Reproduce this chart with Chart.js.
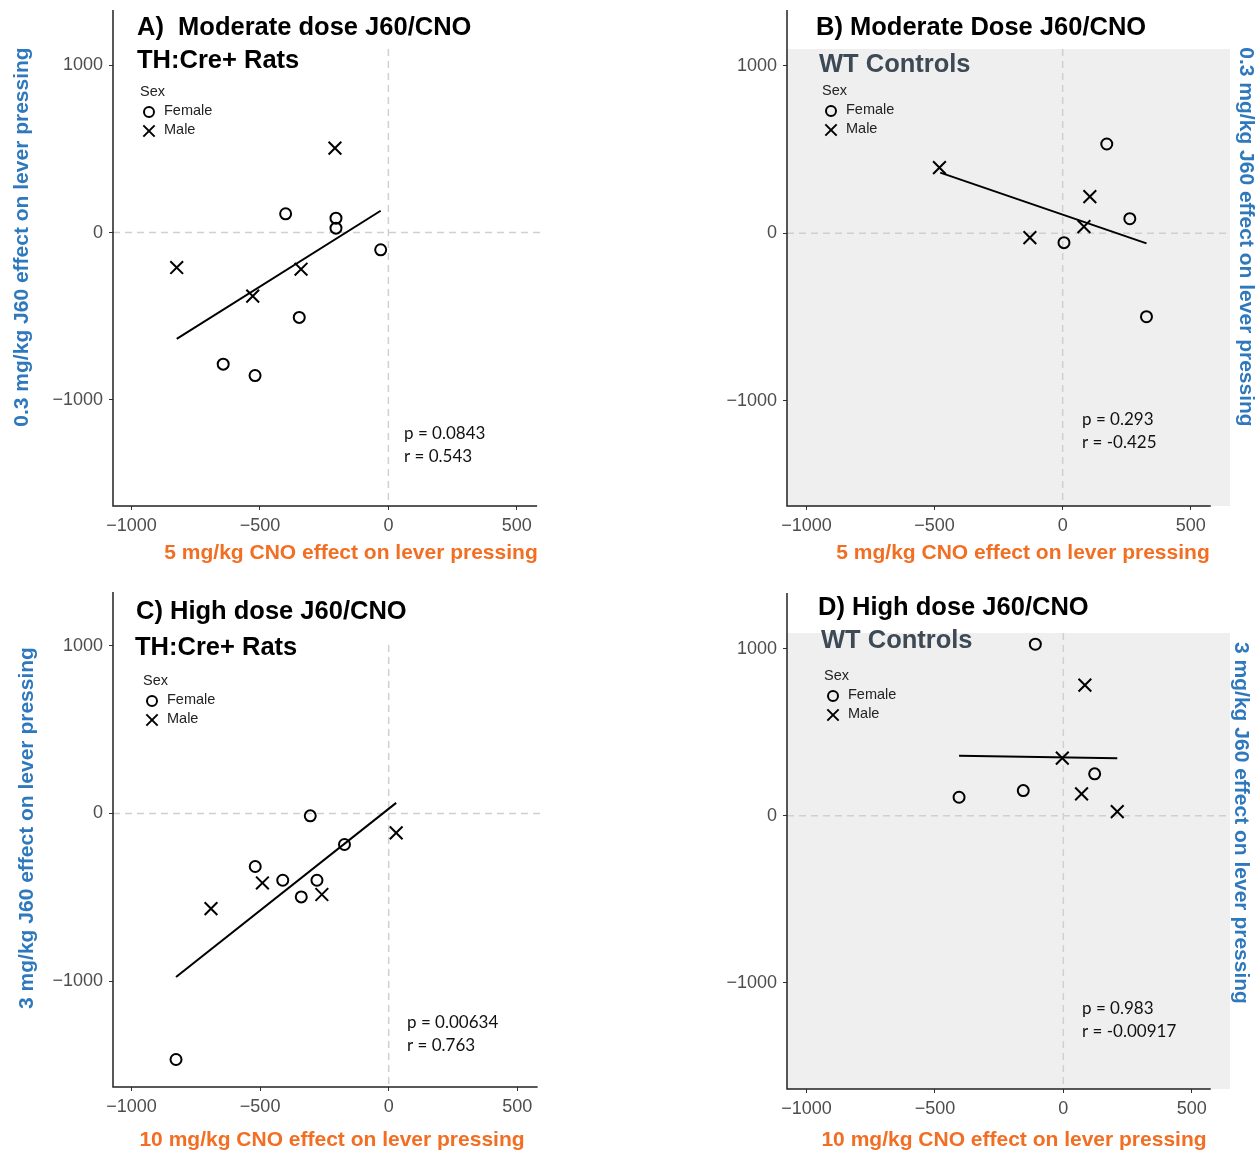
<!DOCTYPE html>
<html>
<head>
<meta charset="utf-8">
<script src="https://cdn.jsdelivr.net/npm/chart.js@4.4.0/dist/chart.umd.min.js"></script>
<style>
  body { margin: 0; background: #fff; }
  #wrap { position: relative; width: 1260px; height: 1151px; }
  canvas { position: absolute; }
</style>
</head>
<body>
<div id="wrap">
  <canvas id="cA" width="630" height="580" style="left:0;top:0"></canvas>
  <canvas id="cB" width="630" height="580" style="left:630px;top:0"></canvas>
  <canvas id="cC" width="630" height="571" style="left:0;top:580px"></canvas>
  <canvas id="cD" width="630" height="571" style="left:630px;top:580px"></canvas>
</div>
<script>
// tick values shared by all panels
const ticksX = [-1000, -500, 0, 500];
const ticksY = [-1000, 0, 1000];

// A) moderate dose, TH:Cre+ rats
const aFemaleX = [-400, -204, -204, -30, -347, -643, -519];
const aFemaleY = [112, 86, 26, -103, -507, -786, -854];
const aMaleX = [-208, -824, -340, -528];
const aMaleY = [504, -209, -219, -380];
const aFitX = [-824, -30];
const aFitY = [-635, 130];

// B) moderate dose, WT controls
const bFemaleX = [172, 262, 5, 327];
const bFemaleY = [533, 87, -56, -498];
const bMaleX = [-481, 106, 83, -128];
const bMaleY = [392, 219, 40, -26];
const bFitX = [-478, 327];
const bFitY = [362, -60];

// C) high dose, TH:Cre+ rats
const cFemaleX = [-305, -172, -519, -412, -279, -340, -827];
const cFemaleY = [-14, -185, -316, -398, -398, -497, -1466];
const cMaleX = [29, -491, -260, -691];
const cMaleY = [-116, -414, -483, -567];
const cFitX = [-827, 29];
const cFitY = [-975, 63];

// D) high dose, WT controls
const dFemaleX = [-109, 122, -156, -406];
const dFemaleY = [1026, 250, 150, 110];
const dMaleX = [84, -4, 71, 210];
const dMaleY = [781, 344, 130, 24];
const dFitX = [-406, 210];
const dFitY = [359, 344];

const panelTitles = ['A)  Moderate dose J60/CNO', 'B) Moderate Dose J60/CNO', 'C) High dose J60/CNO', 'D) High dose J60/CNO'];
const groupNames = ['TH:Cre+ Rats', 'WT Controls', 'TH:Cre+ Rats', 'WT Controls'];
const pValues = ['0.0843', '0.293', '0.00634', '0.983'];
const rValues = ['0.543', '-0.425', '0.763', '-0.00917'];
const yTitles = ['0.3 mg/kg J60 effect on lever pressing', '0.3 mg/kg J60 effect on lever pressing',
                 '3 mg/kg J60 effect on lever pressing', '3 mg/kg J60 effect on lever pressing'];
const xTitles = ['5 mg/kg CNO effect on lever pressing', '5 mg/kg CNO effect on lever pressing',
                 '10 mg/kg CNO effect on lever pressing', '10 mg/kg CNO effect on lever pressing'];

const SANS = '"Liberation Sans", Arial, sans-serif';
const BLUE = '#2e78bd';
const ORANGE = '#f26e22';
const SLATE = '#3d4955';

// layout of each panel, in page pixels
const panels = [
  { id: 'cA', ox: 0, oy: 0, area: [113, 542, 49, 506], x: [-1072, 598], y: [-1633, 1096], axisTop: 10, xEnd: 579, shaded: false,
    title: [137, 28], group: [137, 61], legend: [140, 92], stats: [404, 434], yTitle: [22, 237, -1], xTitle: [351, 553],
    female: [aFemaleX, aFemaleY], male: [aMaleX, aMaleY], fit: [aFitX, aFitY] },
  { id: 'cB', ox: 630, oy: 0, area: [787, 1230, 49, 506], x: [-1076, 653], y: [-1628, 1100], axisTop: 10, xEnd: 578, shaded: true,
    title: [816, 28], group: [819, 65], legend: [822, 91], stats: [1082, 420], yTitle: [1246, 237, 1], xTitle: [1023, 553],
    female: [bFemaleX, bFemaleY], male: [bMaleX, bMaleY], fit: [bFitX, bFitY] },
  { id: 'cC', ox: 0, oy: 580, area: [113, 542, 645, 1087], x: [-1072, 596], y: [-1630, 1004], axisTop: 592, xEnd: 579, shaded: false,
    title: [136, 612], group: [135, 648], legend: [143, 681], stats: [407, 1023], yTitle: [27, 828, -1], xTitle: [332, 1140],
    female: [cFemaleX, cFemaleY], male: [cMaleX, cMaleY], fit: [cFitX, cFitY] },
  { id: 'cD', ox: 630, oy: 580, area: [787, 1230, 633, 1089], x: [-1076, 649], y: [-1636, 1093], axisTop: 593, xEnd: 574, shaded: true,
    title: [818, 608], group: [821, 641], legend: [824, 676], stats: [1082, 1009], yTitle: [1241, 823, 1], xTitle: [1014, 1140],
    female: [dFemaleX, dFemaleY], male: [dMaleX, dMaleY], fit: [dFitX, dFitY] }
];

const fmt = v => (v < 0 ? '\u2212' : '') + Math.abs(v);
const pts = (xs, ys) => xs.map((x, i) => ({ x: x, y: ys[i] }));

function text(ctx, s, x, y, font, color, align, rot) {
  ctx.save();
  ctx.translate(x, y);
  if (rot) ctx.rotate(rot * Math.PI / 2);
  ctx.font = font;
  ctx.fillStyle = color;
  ctx.textAlign = align || 'left';
  ctx.textBaseline = 'middle';
  ctx.fillText(s, 0, 0);
  ctx.restore();
}

function makeDecor(p, k) {
  const X = v => v - p.ox, Y = v => v - p.oy;
  return {
    id: 'decor' + k,
    beforeDraw(chart) {
      const ctx = chart.ctx, a = chart.chartArea;
      ctx.save();
      if (p.shaded) {
        ctx.fillStyle = '#efefef';
        ctx.fillRect(a.left, a.top, a.right - a.left, a.bottom - a.top);
      }
      const x0 = chart.scales.x.getPixelForValue(0);
      const y0 = chart.scales.y.getPixelForValue(0);
      ctx.strokeStyle = '#d0d0d0';
      ctx.lineWidth = 1.5;
      ctx.setLineDash([7, 5]);
      ctx.beginPath();
      ctx.moveTo(x0, a.top); ctx.lineTo(x0, a.bottom);
      ctx.moveTo(a.left, y0); ctx.lineTo(a.right, y0);
      ctx.stroke();
      ctx.restore();
    },
    afterDraw(chart) {
      const ctx = chart.ctx, a = chart.chartArea;
      // axis lines
      ctx.save();
      ctx.strokeStyle = '#222';
      ctx.lineWidth = 1.5;
      ctx.beginPath();
      ctx.moveTo(a.left, Y(p.axisTop)); ctx.lineTo(a.left, a.bottom);
      ctx.lineTo(chart.scales.x.getPixelForValue(p.xEnd), a.bottom);
      ctx.stroke();
      ctx.restore();

      text(ctx, panelTitles[k], X(p.title[0]), Y(p.title[1]), 'bold 25.5px ' + SANS, '#000');
      text(ctx, groupNames[k], X(p.group[0]), Y(p.group[1]), 'bold 25.5px ' + SANS, p.shaded ? SLATE : '#000');

      // legend
      const lx = X(p.legend[0]), ly = Y(p.legend[1]);
      text(ctx, 'Sex', lx, ly, '14.5px ' + SANS, '#222');
      text(ctx, 'Female', lx + 24, ly + 19, '14.5px ' + SANS, '#222');
      text(ctx, 'Male', lx + 24, ly + 38, '14.5px ' + SANS, '#222');
      ctx.save();
      ctx.strokeStyle = '#000';
      ctx.fillStyle = 'rgba(0,0,0,0)';
      ctx.lineWidth = 2;
      Chart.helpers.drawPoint(ctx, { pointStyle: 'circle', radius: 5, borderWidth: 2 }, lx + 9, ly + 20);
      Chart.helpers.drawPoint(ctx, { pointStyle: 'crossRot', radius: 8, borderWidth: 2 }, lx + 9, ly + 39);
      ctx.restore();

      // correlation stats
      text(ctx, 'p = ' + pValues[k], X(p.stats[0]), Y(p.stats[1]), '17px Lato, ' + SANS, '#111');
      text(ctx, 'r = ' + rValues[k], X(p.stats[0]), Y(p.stats[1] + 23), '17px Lato, ' + SANS, '#111');

      // axis titles
      text(ctx, yTitles[k], X(p.yTitle[0]), Y(p.yTitle[1]), 'bold 21px ' + SANS, BLUE, 'center', p.yTitle[2]);
      text(ctx, xTitles[k], X(p.xTitle[0]), Y(p.xTitle[1]), 'bold 21px ' + SANS, ORANGE, 'center');
    }
  };
}

panels.forEach((p, k) => {
  const el = document.getElementById(p.id);
  const W = el.width, H = el.height;
  const yw = p.area[0] - p.ox;          // room left of the plot for y ticks
  const xh = p.oy + H - p.area[3];      // room below the plot for x ticks
  const tickGrid = { display: true, drawOnChartArea: false, drawTicks: true, tickLength: 4, color: '#333', lineWidth: 1 };
  const tickFont = { family: SANS, size: 18 };
  new Chart(el.getContext('2d'), {
    type: 'scatter',
    data: {
      datasets: [
        { label: 'Female', data: pts(p.female[0], p.female[1]), pointStyle: 'circle', pointRadius: 5.5,
          borderColor: '#000', backgroundColor: 'rgba(0,0,0,0)', borderWidth: 2, pointHoverRadius: 5.5 },
        { label: 'Male', data: pts(p.male[0], p.male[1]), pointStyle: 'crossRot', pointRadius: 9,
          borderColor: '#000', backgroundColor: '#000', borderWidth: 2, pointHoverRadius: 9 },
        { label: 'fit', data: pts(p.fit[0], p.fit[1]), showLine: true, pointRadius: 0,
          borderColor: '#000', borderWidth: 2 }
      ]
    },
    options: {
      responsive: false,
      animation: false,
      events: [],
      layout: { padding: { left: 0, right: p.ox + W - p.area[1], top: p.area[2] - p.oy, bottom: 0 } },
      plugins: { legend: { display: false }, tooltip: { enabled: false } },
      scales: {
        x: {
          type: 'linear', min: p.x[0], max: p.x[1],
          afterBuildTicks: s => { s.ticks = ticksX.map(v => ({ value: v })); },
          afterFit: s => { s.height = xh; },
          grid: tickGrid, border: { display: false },
          ticks: { padding: 5, color: '#4d4d4d', font: tickFont, callback: fmt, maxRotation: 0, autoSkip: false }
        },
        y: {
          type: 'linear', min: p.y[0], max: p.y[1],
          afterBuildTicks: s => { s.ticks = ticksY.map(v => ({ value: v })); },
          afterFit: s => { s.width = yw; },
          grid: tickGrid, border: { display: false },
          ticks: { padding: 6, color: '#4d4d4d', font: tickFont, callback: fmt, autoSkip: false }
        }
      }
    },
    plugins: [makeDecor(p, k)]
  });
});
</script>
</body>
</html>
